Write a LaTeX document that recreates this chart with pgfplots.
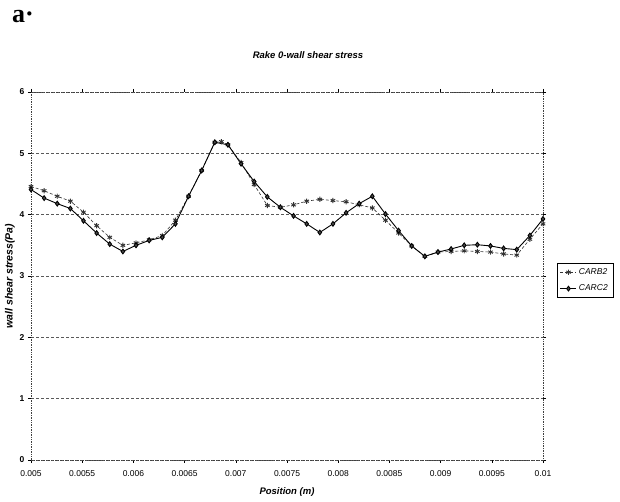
\documentclass[border=0pt]{standalone}
\usepackage{pgfplots}
\pgfplotsset{compat=1.18}
\usepackage{fontspec}
\setmainfont{Liberation Sans}
\newfontfamily\serifbold{Liberation Serif}
\begin{document}
\begin{tikzpicture}
\path[use as bounding box] (0pt,0pt) rectangle (620pt,502pt);
\node[font=\serifbold\bfseries\fontsize{26}{26}\selectfont, anchor=west, inner sep=0pt] at (12pt,485pt) {a·};
\node[font=\bfseries\itshape\fontsize{9.5}{10}\selectfont] at (308pt,447pt) {Rake 0-wall shear stress};
\begin{axis}[
  at={(31pt,42pt)}, anchor=south west, scale only axis,
  width=512pt, height=368pt,
  xmin=0.005, xmax=0.01, ymin=0, ymax=6,
  scaled x ticks=false,
  xtick={0.005,0.0055,0.006,0.0065,0.007,0.0075,0.008,0.0085,0.009,0.0095,0.01},
  xticklabels={0.005,0.0055,0.006,0.0065,0.007,0.0075,0.008,0.0085,0.009,0.0095,0.01},
  ytick={0,1,2,3,4,5,6},
  yticklabels={0,1,2,3,4,5,6},
  ymajorgrids,
  grid style={densely dashed, black!65, line width=0.6pt},
  axis line style={densely dotted, black!75, line width=0.7pt},
  tick style={black, line width=0.5pt},
  tick align=outside,
  major tick length=3pt,
  xticklabel style={font=\fontsize{8.5}{9}\selectfont, yshift=-4pt},
  yticklabel style={font=\bfseries\fontsize{8.5}{9}\selectfont},
  xlabel={\bfseries\itshape Position (m)},
  xlabel style={at={(axis description cs:0.5,-0.087)}, anchor=center, font=\fontsize{9.5}{10}\selectfont},
  ylabel={\bfseries\itshape wall shear stress(Pa)},
  ylabel style={at={(axis description cs:-0.041,0.5)}, anchor=center, font=\fontsize{10.5}{11}\selectfont},
  legend style={at={(1.027,0.488)}, anchor=west, draw=black, line width=0.4pt,
    font=\itshape\fontsize{8.5}{9}\selectfont, cells={anchor=west}, row sep=5pt, inner sep=3pt},
  legend image code/.code={\draw[#1] (0pt,0pt) -- (16pt,0pt); \draw[#1, only marks] plot coordinates {(8pt,0pt)};},
  clip=false,
]
\addplot[densely dashed, black!80, line width=0.6pt, mark=asterisk, mark size=2.6pt,
  mark options={solid, black!80, line width=0.9pt}] coordinates {
(0.0050000,4.46) (0.0051282,4.39) (0.0052564,4.30) (0.0053846,4.22) (0.0055128,4.04)
(0.0056410,3.82) (0.0057692,3.63) (0.0058974,3.50) (0.0060256,3.54) (0.0061538,3.59)
(0.0062821,3.66) (0.0064103,3.91) (0.0065385,4.30) (0.0066667,4.72) (0.0067949,5.18)
(0.0068590,5.19) (0.0069231,5.14) (0.0070513,4.85) (0.0071795,4.49) (0.0073077,4.15)
(0.0074359,4.12) (0.0075641,4.16) (0.0076923,4.22) (0.0078205,4.25) (0.0079487,4.23)
(0.0080769,4.21) (0.0082051,4.16) (0.0083333,4.11) (0.0084615,3.91) (0.0085897,3.70)
(0.0087179,3.49) (0.0088462,3.32) (0.0089744,3.39) (0.0091026,3.40) (0.0092308,3.41)
(0.0093590,3.40) (0.0094872,3.39) (0.0096154,3.36) (0.0097436,3.34) (0.0098718,3.60)
(0.0100000,3.85)};
\addlegendentry{CARB2}
\addplot[solid, black, line width=0.9pt, mark=diamond*, mark size=2.4pt,
  mark options={solid, fill=black!70, draw=black}] coordinates {
(0.0050000,4.41) (0.0051282,4.27) (0.0052564,4.18) (0.0053846,4.10) (0.0055128,3.90)
(0.0056410,3.70) (0.0057692,3.52) (0.0058974,3.40) (0.0060256,3.50) (0.0061538,3.58)
(0.0062821,3.63) (0.0064103,3.85) (0.0065385,4.30) (0.0066667,4.72) (0.0067949,5.18)
(0.0069231,5.14) (0.0070513,4.83) (0.0071795,4.54) (0.0073077,4.29)
(0.0074359,4.12) (0.0075641,3.98) (0.0076923,3.85) (0.0078205,3.71) (0.0079487,3.85)
(0.0080769,4.03) (0.0082051,4.18) (0.0083333,4.30) (0.0084615,4.01) (0.0085897,3.74)
(0.0087179,3.49) (0.0088462,3.32) (0.0089744,3.39) (0.0091026,3.44) (0.0092308,3.50)
(0.0093590,3.51) (0.0094872,3.49) (0.0096154,3.45) (0.0097436,3.43) (0.0098718,3.66)
(0.0100000,3.93)};
\addlegendentry{CARC2}
\end{axis}
\end{tikzpicture}
\end{document}
